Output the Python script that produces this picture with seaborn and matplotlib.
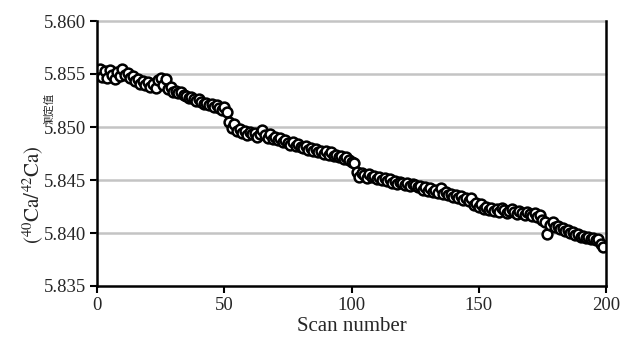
import matplotlib
matplotlib.use("Agg")
import matplotlib.pyplot as plt
import seaborn as sns
import pandas as pd

# ---- data ----
scan_number = list(range(1, 200))
ratio_measured = [
    5.8555, 5.8547, 5.8553, 5.8546, 5.8554, 5.8549, 5.8545, 5.8552, 5.8548, 5.8555,
    5.8549, 5.8551, 5.8546, 5.8548, 5.8543, 5.8545, 5.8541, 5.8543, 5.8540, 5.8542,
    5.8538, 5.8541, 5.8537, 5.8544, 5.8546, 5.8540, 5.8545, 5.8536, 5.8538, 5.8533,
    5.8534, 5.8532, 5.8533, 5.8530, 5.8529, 5.8527, 5.8528, 5.8526, 5.8525, 5.8526,
    5.8524, 5.8522, 5.8523, 5.8521, 5.8522, 5.8519, 5.8521, 5.8518, 5.8516, 5.8519,
    5.8514, 5.8505, 5.8499, 5.8503, 5.8496, 5.8498, 5.8494, 5.8496, 5.8492, 5.8495,
    5.8493, 5.8494, 5.8491, 5.8493, 5.8497, 5.8492, 5.8490, 5.8493, 5.8489, 5.8491,
    5.8488, 5.8490, 5.8486, 5.8488, 5.8485, 5.8483, 5.8486, 5.8482, 5.8484, 5.8481,
    5.8480, 5.8482, 5.8478, 5.8480, 5.8477, 5.8479, 5.8476, 5.8477, 5.8475, 5.8477,
    5.8474, 5.8476, 5.8473, 5.8474, 5.8472, 5.8473, 5.8470, 5.8472, 5.8469, 5.8467,
    5.8466, 5.8458, 5.8453, 5.8457, 5.8455, 5.8452, 5.8456, 5.8453, 5.8454, 5.8451,
    5.8453, 5.8450, 5.8452, 5.8449, 5.8451, 5.8447, 5.8449, 5.8446, 5.8448, 5.8447,
    5.8445, 5.8447, 5.8444, 5.8446, 5.8445, 5.8443, 5.8444, 5.8441, 5.8443, 5.8440,
    5.8442, 5.8439, 5.8441, 5.8438, 5.8442, 5.8437, 5.8439, 5.8436, 5.8437, 5.8434,
    5.8436, 5.8433, 5.8435, 5.8431, 5.8433, 5.8430, 5.8433, 5.8426, 5.8428, 5.8425,
    5.8427, 5.8423, 5.8425, 5.8422, 5.8424, 5.8421, 5.8423, 5.8420, 5.8424, 5.8422,
    5.8419, 5.8421, 5.8423, 5.8420, 5.8418, 5.8421, 5.8419, 5.8417, 5.8420, 5.8418,
    5.8416, 5.8419, 5.8415, 5.8417, 5.8412, 5.8410, 5.8399, 5.8408, 5.8410, 5.8406,
    5.8407, 5.8404, 5.8405, 5.8402, 5.8403, 5.8400, 5.8401, 5.8398, 5.8399, 5.8396,
    5.8397, 5.8395, 5.8396, 5.8394, 5.8395, 5.8393, 5.8394, 5.8390, 5.8387,
]
x_ticks = [0, 50, 100, 150, 200]
y_ticks = [5.835, 5.840, 5.845, 5.850, 5.855, 5.860]
y_tick_labels = ["5.835", "5.840", "5.845", "5.850", "5.855", "5.860"]

df = pd.DataFrame({"scan": scan_number, "ratio": ratio_measured})

sns.set_style("white")
plt.rcParams["font.family"] = ["Liberation Serif", "DejaVu Serif", "Noto Sans CJK SC"]
plt.rcParams["mathtext.fontset"] = "stix"

W, H = 622, 337
fig = plt.figure(figsize=(W / 100, H / 100), dpi=100)
ax = fig.add_axes([97 / W, 1 - 286 / H, (606 - 97) / W, (286 - 21) / H])

sns.scatterplot(data=df, x="scan", y="ratio", ax=ax, color="white",
                edgecolor="black", s=50, linewidth=1.8, zorder=3, legend=False)

ax.set_xlim(0, 200)
ax.set_ylim(5.835, 5.860)
ax.set_xticks(x_ticks)
ax.set_yticks(y_ticks)
ax.set_yticklabels(y_tick_labels)

for v in y_ticks[1:]:
    ax.axhline(v, color="#c4c4c4", linewidth=1.8, zorder=1, clip_on=False)

for side in ["left", "bottom", "right"]:
    ax.spines[side].set_visible(True)
    ax.spines[side].set_color("black")
    ax.spines[side].set_linewidth(1.8)
    ax.spines[side].set_zorder(4)
ax.spines["top"].set_visible(False)

ax.tick_params(axis="both", which="major", direction="out", length=5,
               width=1.5, color="black", labelsize=13.5, pad=3,
               left=True, bottom=True)
ax.set_xlabel("Scan number", fontsize=15, labelpad=2)
ax.set_ylabel("")

fig.text(33 / W, 1 - 195 / H, r"$(^{40}\mathrm{Ca}/^{42}\mathrm{Ca})$",
         rotation=90, ha="center", va="center", fontsize=15)
fig.text(49 / W, 1 - 108 / H, "测定值", rotation=90, ha="center", va="center",
         fontsize=7.5, family=["Noto Sans CJK SC", "DejaVu Sans"])

fig.savefig("out.png", dpi=100)
